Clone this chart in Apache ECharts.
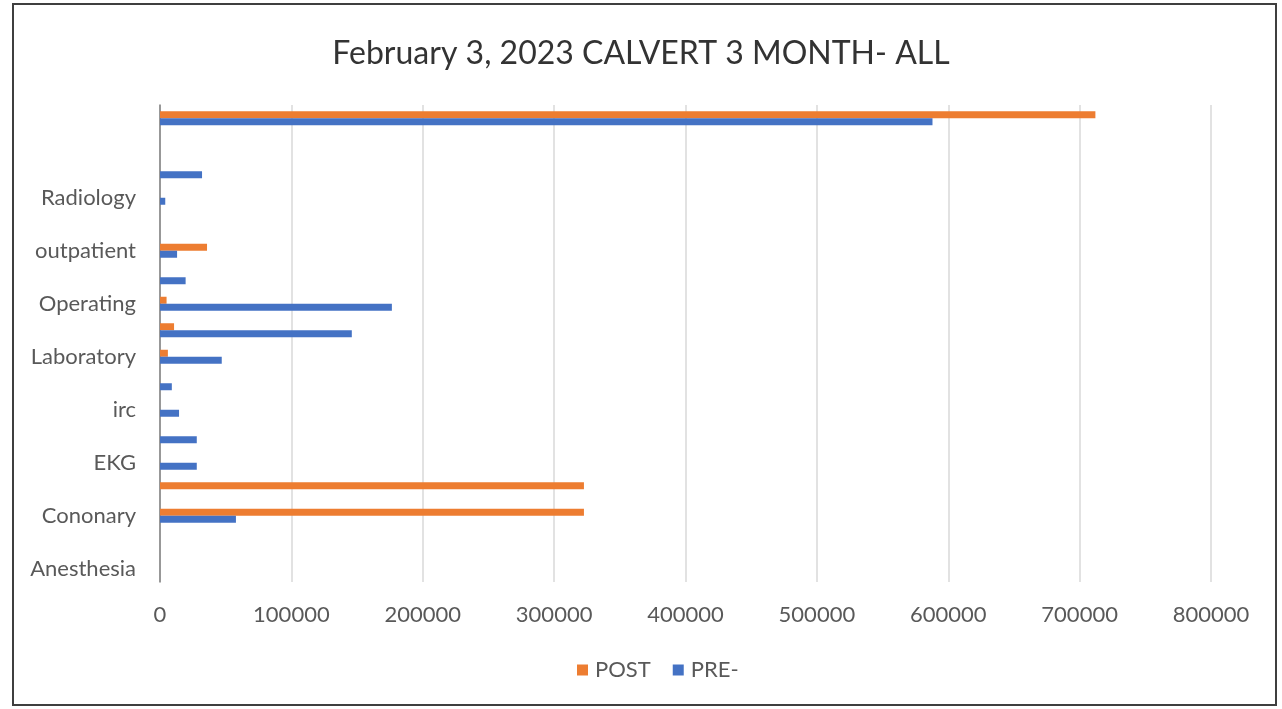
<!DOCTYPE html>
<html>
<head>
<meta charset="utf-8">
<title>February 3, 2023 CALVERT 3 MONTH- ALL</title>
<script src="https://cdn.jsdelivr.net/npm/echarts@6/dist/echarts.min.js"></script>
<style>
  html, body { margin: 0; padding: 0; background: #ffffff; }
  #chart { width: 1282px; height: 709px; }
</style>
</head>
<body>
<div id="chart"></div>
<script>
// Departments, listed from the bottom of the axis to the top.
// Unnamed rows are blank on the axis.
const categories = [
  'Anesthesia', '', 'Cononary', '', 'EKG', '', 'irc', '', 'Laboratory', '',
  'Operating', '', 'outpatient', '', 'Radiology', '', '', ''
];

const postValues = [
  0, 0, 322700, 322700, 0, 0, 0, 0, 6000, 10700,
  5000, 0, 35800, 0, 0, 0, 0, 712000
];

const preValues = [
  0, 0, 57800, 0, 28000, 28000, 14500, 9000, 47000, 146000,
  176500, 19500, 13000, 0, 4000, 32000, 0, 588000
];

const xTicks = { min: 0, max: 800000, interval: 100000 };

const FONT = 'Lato, "Open Sans", sans-serif';
const TEXT = '#595959';

const chart = echarts.init(document.getElementById('chart'), null, { renderer: 'canvas' });

chart.setOption({
  backgroundColor: '#ffffff',
  animation: false,
  title: {
    text: 'February 3, 2023 CALVERT 3 MONTH- ALL',
    left: 'center',
    top: 33,
    textStyle: { fontFamily: FONT, fontSize: 32, fontWeight: 'normal', color: '#333333' }
  },
  legend: {
    data: ['POST', 'PRE-'],
    bottom: 23,
    left: 572,
    icon: 'rect',
    itemWidth: 11,
    itemHeight: 11,
    itemGap: 22,
    textStyle: { fontFamily: FONT, fontSize: 22, color: TEXT, padding: [0, 0, 0, 2] }
  },
  grid: { left: 160, right: 71, top: 105, bottom: 127, containLabel: false },
  xAxis: {
    type: 'value',
    min: xTicks.min,
    max: xTicks.max,
    interval: xTicks.interval,
    axisLine: { show: false },
    axisTick: { show: false },
    splitLine: { show: true, lineStyle: { color: '#d9d9d9', width: 1.5 } },
    axisLabel: {
      fontFamily: FONT, fontSize: 22, color: TEXT, margin: 22,
      formatter: function (v) { return String(v); }
    }
  },
  yAxis: {
    type: 'category',
    data: categories,
    axisLine: { show: true, lineStyle: { color: '#7f7f7f', width: 1.5 } },
    axisTick: { show: false },
    splitLine: { show: false },
    axisLabel: { interval: 0, fontFamily: FONT, fontSize: 22, color: TEXT, margin: 24 }
  },
  series: [
    {
      name: 'POST',
      type: 'bar',
      data: postValues,
      barWidth: 7,
      barGap: '0%',
      itemStyle: { color: '#ED7D31' }
    },
    {
      name: 'PRE-',
      type: 'bar',
      data: preValues,
      barWidth: 7,
      barGap: '0%',
      itemStyle: { color: '#4472C4' }
    }
  ],
  graphic: [
    {
      type: 'rect',
      shape: { x: 13, y: 4, width: 1263, height: 701 },
      style: { fill: 'none', stroke: '#3f3f3f', lineWidth: 2 },
      silent: true
    }
  ]
});
</script>
</body>
</html>
